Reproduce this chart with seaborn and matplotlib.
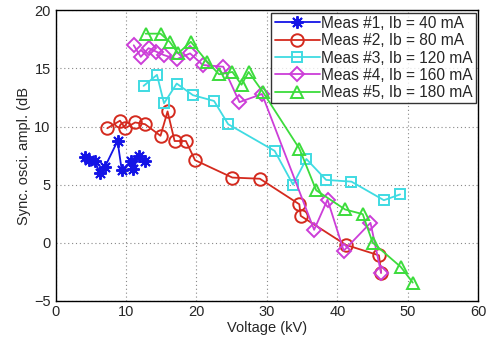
import matplotlib
matplotlib.use("Agg")
import matplotlib.pyplot as plt
import seaborn as sns
import pandas as pd

# values
m1_x = [4.2, 4.8, 5.6, 6.3, 7.0, 8.8, 9.4, 10.7, 11.0, 11.8, 12.7]
m1_y = [7.4, 7.1, 7.0, 6.0, 6.5, 8.75, 6.25, 7.0, 6.3, 7.45, 7.05]

m2_x = [7.35, 9.15, 9.9, 11.3, 12.7, 14.9, 15.9, 16.9, 18.5, 19.8, 25.1, 29.0,
        34.6, 34.8, 41.2, 45.9, 46.2]
m2_y = [9.85, 10.5, 9.85, 10.35, 10.2, 9.2, 11.3, 8.75, 8.75, 7.1, 5.6, 5.5,
        3.3, 2.3, -0.2, -1.1, -2.6]

m3_x = [12.5, 14.4, 15.4, 17.2, 19.5, 22.5, 24.5, 31.1, 33.7, 35.6, 38.4, 42.0,
        46.6, 48.9]
m3_y = [13.5, 14.45, 12.0, 13.7, 12.7, 12.2, 10.2, 7.9, 5.0, 7.2, 5.4, 5.25,
        3.65, 4.15]

m4_x = [11.1, 12.1, 13.2, 14.3, 15.4, 17.2, 19.1, 20.9, 23.8, 26.1, 29.3,
        36.7, 38.6, 40.9, 44.7, 46.2]
m4_y = [17.0, 16.0, 16.75, 16.45, 16.15, 15.8, 16.3, 15.3, 15.15, 12.1, 12.8,
        1.1, 3.7, -0.7, 1.7, -2.6]

m5_x = [12.8, 14.9, 16.2, 17.4, 19.2, 21.5, 23.2, 25.1, 26.4, 27.4, 29.4,
        34.6, 37.0, 41.1, 43.6, 45.0, 49.0, 50.7]
m5_y = [18.0, 18.0, 17.3, 16.3, 17.3, 15.6, 14.5, 14.7, 13.6, 14.7, 13.0,
        8.1, 4.5, 2.85, 2.45, 0.0, -2.1, -3.45]

labels = ["Meas #1, Ib = 40 mA", "Meas #2, Ib = 80 mA", "Meas #3, Ib = 120 mA",
          "Meas #4, Ib = 160 mA", "Meas #5, Ib = 180 mA"]
colors = ["#1414e6", "#d42a1e", "#3fdbe2", "#cc3ed8", "#3cdc3c"]
markers = [(8, 2, 0), "o", "s", "D", "^"]
sizes = [9, 9, 7, 7, 9]

sns.set_style("white")
plt.rcParams["font.family"] = ["Liberation Sans", "DejaVu Sans"]

fig = plt.figure(figsize=(4.93, 3.37), dpi=100)
ax = fig.add_axes([0.1126, 0.108, 0.8576, 0.861])

series = [(m1_x, m1_y), (m2_x, m2_y), (m3_x, m3_y), (m4_x, m4_y), (m5_x, m5_y)]
for (xs, ys), lab, c, mk, ms in zip(series, labels, colors, markers, sizes):
    df = pd.DataFrame({"x": xs, "y": ys})
    sns.lineplot(data=df, x="x", y="y", ax=ax, sort=False, color=c, lw=1.3,
                 marker=mk, ms=ms, mfc="none" if mk != (8, 2, 0) else c,
                 mec=c, mew=1.4, label=lab)

ax.set_xlim(0, 60)
ax.set_ylim(-5, 20)
ax.set_xticks(range(0, 61, 10))
ax.set_yticks(range(-5, 21, 5))
ax.grid(True, ls=(0, (1, 2.5)), color="#888888", lw=0.8)
ax.tick_params(direction="in", length=4, labelsize=10.5, color="black")
for s in ax.spines.values():
    s.set_color("black")
    s.set_linewidth(1.0)

ax.set_xlabel("Voltage (kV)", fontsize=10.5, labelpad=1)
ax.set_ylabel("Sync. osci. ampl. (dB", fontsize=10.5, labelpad=2)

leg = ax.legend(loc="upper right", fontsize=11.2, frameon=True, fancybox=False,
                edgecolor="black", borderpad=0.2, labelspacing=0.15,
                handlelength=2.9, handletextpad=0.1, borderaxespad=0.15)
leg.get_frame().set_linewidth(1.0)

fig.savefig("out.png", dpi=100)
